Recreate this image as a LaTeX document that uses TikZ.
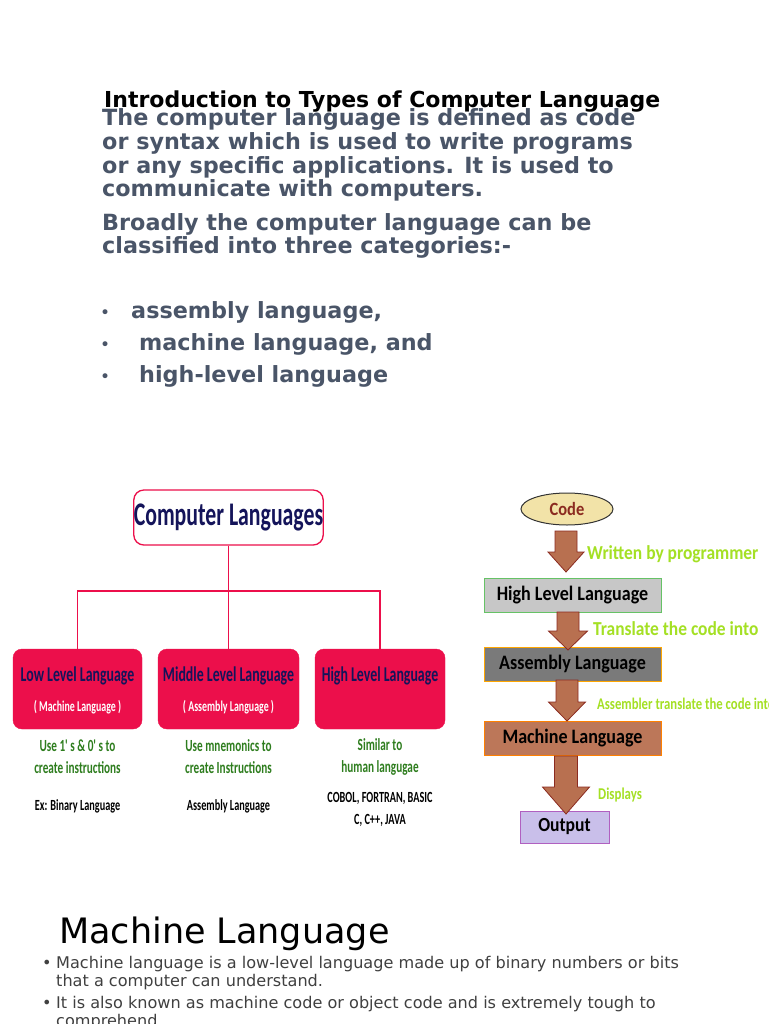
\documentclass[tikz,border=0pt]{standalone}
\usepackage{fontspec}
\setmainfont{DejaVu Sans}
\newfontfamily\dia[FakeStretch=0.78]{Carlito}
\newfontfamily\diac[FakeStretch=0.66]{Carlito}
\newfontfamily\diaf[FakeStretch=0.88]{Carlito}
\usetikzlibrary{shapes.geometric,calc}
\definecolor{para}{HTML}{4A5568}
\definecolor{crim}{HTML}{EC0F4B}
\definecolor{navy}{HTML}{14145A}
\definecolor{dgreen}{HTML}{2E7D1E}
\definecolor{lgreen}{HTML}{A4E024}
\definecolor{arrfill}{HTML}{B87050}
\definecolor{arrline}{HTML}{8B2B20}
\definecolor{btxt}{HTML}{404040}
\definecolor{codefill}{HTML}{F2E3A8}
\definecolor{outfill}{HTML}{C9BFEA}
\definecolor{outline}{HTML}{B060C0}
\newcommand\blockarrow[6]{% cx, top, bottom, shaft half, head half, head start
  \filldraw[fill=arrfill,draw=arrline,line width=0.8pt]
   (#1-#4,#2) -- (#1+#4,#2) -- (#1+#4,#6) -- (#1+#5,#6) -- (#1,#3) -- (#1-#5,#6) -- (#1-#4,#6) -- cycle;}
\begin{document}
\begin{tikzpicture}[x=1pt,y=-1pt,
  ptxt/.style={anchor=base west,inner sep=0pt,text=para,font=\bfseries\fontsize{22.3}{24}\selectfont},
  redbox/.style={draw=crim,fill=crim,rounded corners=9pt,minimum width=#1,minimum height=80pt,inner sep=0pt},
  conn/.style={draw=crim,line width=1.3pt},
  gtxt/.style={text=dgreen,font=\diac\bfseries\fontsize{17}{22}\selectfont,align=center,inner sep=0pt},
  ktxt/.style={text=black,font=\diac\bfseries\fontsize{15.5}{22}\selectfont,align=center,inner sep=0pt},
  flowbox/.style={minimum width=177pt,minimum height=34pt,inner sep=0pt,line width=1pt,font=\diaf\bfseries\fontsize{20.5}{22}\selectfont},
  ftxt/.style={anchor=base west,text=lgreen,inner sep=0pt,font=\diaf\bfseries\fontsize{19.8}{22}\selectfont},
  btx/.style={anchor=base west,inner sep=0pt,text=btxt,font=\fontsize{16.1}{18}\selectfont}]
\useasboundingbox (0,0) rectangle (768,1024);
\clip (0,0) rectangle (768,1024);
\fill[white] (0,0) rectangle (768,1024);
% title and paragraph
\node[anchor=base west,inner sep=0pt,font=\bfseries\fontsize{22}{24}\selectfont] (title) at (104,108) {Introduction to Types of Computer Language};
\node[ptxt] (p1) at (102,126) {The computer language is defined as code};
\node[ptxt] (p2) at (102,150) {or syntax which is used to write programs};
\node[ptxt] (p3) at (102,174) {or any specific applications. It is used to};
\node[ptxt] (p4) at (102,197) {communicate with computers.};
\node[ptxt] (p5) at (102,230) {Broadly the computer language can be};
\node[ptxt] (p6) at (102,253) {classified into three categories:-};
\node[ptxt,font=\fontsize{17}{20}\selectfont] (b1) at (100,318) {•};
\node[ptxt,font=\fontsize{17}{20}\selectfont] (b2) at (100,350) {•};
\node[ptxt,font=\fontsize{17}{20}\selectfont] (b3) at (100,382) {•};
\node[ptxt] (l1) at (131,318) {assembly language,};
\node[ptxt] (l2) at (139,350) {machine language, and};
\node[ptxt] (l3) at (139,382) {high-level language};
% left diagram
\node[draw=crim,fill=white,line width=1.3pt,rounded corners=10pt,minimum width=187pt,minimum height=55pt,inner sep=0pt,text=navy,font=\diac\bfseries\fontsize{33}{34}\selectfont] (cl) at (228.5,517.5) {Computer Languages};
\node[redbox=129pt] (low) at (77.5,689) {};
\node[redbox=141pt] (mid) at (228.5,689) {};
\node[redbox=130pt] (high) at (380,689) {};
\node[text=navy,font=\diac\bfseries\fontsize{21}{22}\selectfont,inner sep=0pt] (lowt) at (77.5,676) {Low Level Language};
\node[text=navy,font=\diac\bfseries\fontsize{21}{22}\selectfont,inner sep=0pt] (midt) at (228.5,676) {Middle Level Language};
\node[text=navy,font=\diac\bfseries\fontsize{21}{22}\selectfont,inner sep=0pt] (hight) at (380,676) {High Level Language};
\node[text=white,font=\diac\bfseries\fontsize{15}{16}\selectfont,inner sep=0pt] (lows) at (77.5,707) {( Machine Language )};
\node[text=white,font=\diac\bfseries\fontsize{15}{16}\selectfont,inner sep=0pt] (mids) at (228.5,707) {( Assembly Language )};
\coordinate (j) at (228.5,591);
\draw[conn] (cl.south) -- (mid.north);
\draw[conn] (low.north) |- (j) -| (high.north);
\node[gtxt] (lowg) at (77.5,757) {Use 1' s \& 0' s to\\create instructions};
\node[gtxt] (midg) at (228.5,757) {Use mnemonics to\\create Instructions};
\node[gtxt] (highg) at (380,757) {Similar to\\human langugae};
\node[ktxt] (lowk) at (77.5,806) {Ex: Binary Language};
\node[ktxt] (midk) at (228.5,806) {Assembly Language};
\node[ktxt] (highk) at (380,809) {COBOL, FORTRAN, BASIC\\C, C++, JAVA};
% right flowchart
\node[ellipse,draw=black!80,fill=codefill,line width=1pt,minimum width=92pt,minimum height=32pt,inner sep=0pt,text=arrline,font=\diaf\bfseries\fontsize{18.7}{20}\selectfont] (code) at (567,509) {Code};
\node[flowbox,draw=green!60!black!60,fill=black!22] (hll) at (572.5,595) {High Level Language};
\node[flowbox,draw=orange!70!yellow,fill=black!52] (asl) at (572.5,664) {Assembly Language};
\node[flowbox,draw=orange,fill=arrfill!95] (mcl) at (572.5,738) {Machine Language};
\node[draw=outline,fill=outfill,minimum width=89pt,minimum height=32pt,inner sep=0pt,line width=1pt,font=\diaf\bfseries\fontsize{20}{22}\selectfont] (out) at (564.5,827) {Output};
\blockarrow{566}{531}{572}{11}{18}{552}
\blockarrow{568}{612}{650}{11}{19.5}{631}
\blockarrow{567}{680}{721}{11}{18.5}{702}
\blockarrow{566}{756}{814}{11.5}{23.5}{787}
\node[ftxt] (w1) at (587,559) {Written by programmer};
\node[ftxt] (w2) at (593,635) {Translate the code into};
\node[ftxt,font=\dia\bfseries\fontsize{16.3}{18}\selectfont] (w3) at (597,709) {Assembler translate the code into};
\node[ftxt,font=\dia\bfseries\fontsize{16.5}{18}\selectfont] (w4) at (598,799) {Displays};
% bottom
\node[anchor=base west,inner sep=0pt,font=\fontsize{35}{38}\selectfont] (ml) at (59,943) {Machine Language};
\node[btx] (d1) at (42,968) {•};
\node[btx] (d2) at (42,1008) {•};
\node[btx] (t1) at (56,968) {Machine language is a low-level language made up of binary numbers or bits};
\node[btx] (t2) at (56,986) {that a computer can understand.};
\node[btx] (t3) at (56,1008) {It is also known as machine code or object code and is extremely tough to};
\node[btx] (t4) at (56,1026) {comprehend.};
\end{tikzpicture}
\end{document}
